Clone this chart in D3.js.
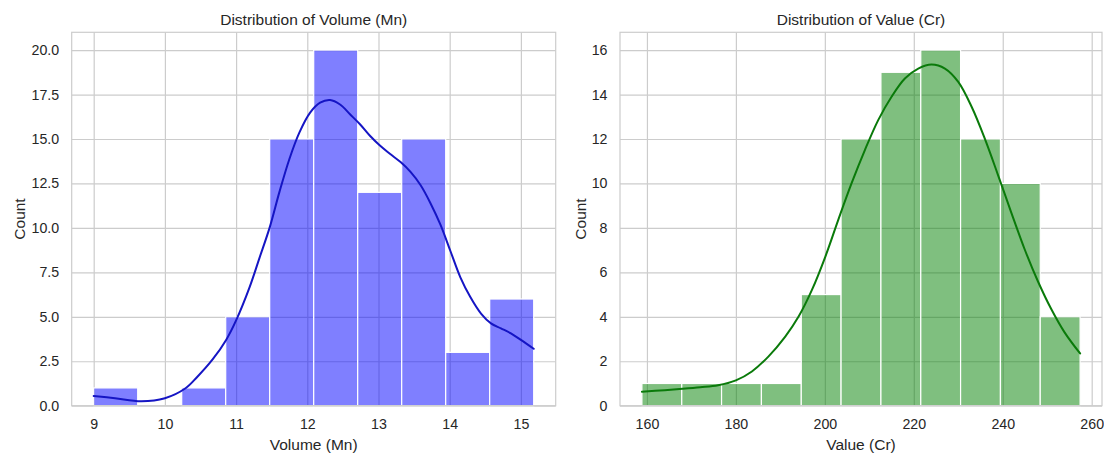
<!DOCTYPE html>
<html>
<head>
<meta charset="utf-8">
<script src="https://cdn.jsdelivr.net/npm/d3@7"></script>
<style>
  body { margin: 0; background: #fff; }
  svg { display: block; font-family: "Liberation Sans", Arial, sans-serif; }
</style>
</head>
<body>
<svg id="chart" width="1104" height="455"></svg>
<script>
// histogram bins
let volumeEdges = [9.0, 9.618, 10.236, 10.854, 11.472, 12.09, 12.708, 13.326, 13.944, 14.562, 15.18]
let volumeCounts = [1, 0, 1, 5, 15, 20, 12, 15, 3, 6]
let valueEdges = [158.87, 167.83, 176.78, 185.74, 194.70, 203.65, 212.61, 221.57, 230.52, 239.48, 248.43, 257.39]
let valueCounts = [1, 1, 1, 1, 5, 12, 15, 16, 12, 10, 4]

// kde curves (in count units)
let volumeKdeX = [9.0, 9.3, 9.67, 10.0, 10.29, 10.45, 10.67, 10.86, 11.0, 11.19, 11.33, 11.47, 11.61, 11.75, 11.89,
  12.04, 12.18, 12.32, 12.46, 12.6, 12.74, 12.88, 13.02, 13.16, 13.31, 13.45, 13.59, 13.73, 13.87, 14.01,
  14.15, 14.29, 14.44, 14.58, 14.72, 14.86, 15.0, 15.18]
let volumeKdeY = [0.55, 0.42, 0.25, 0.42, 0.98, 1.6, 2.6, 3.7, 4.8, 6.67, 8.33, 10.0, 12.04, 13.89, 15.37,
  16.48, 17.04, 17.19, 16.94, 16.39, 15.83, 15.18, 14.63, 14.17, 13.7, 13.15, 12.41, 11.39, 10.18, 8.7,
  7.22, 6.11, 5.18, 4.63, 4.35, 4.07, 3.7, 3.2]
let valueKdeX = [158.87, 164, 168, 172, 176, 180, 183.6, 187.3, 191.1, 194.1, 197.1, 200.1, 203, 206, 209,
  212, 215, 218, 221, 224, 227, 230, 233, 235.9, 238.9, 241.9, 244.9, 247.9, 250.9, 253.9, 257.39]
let valueKdeY = [0.63, 0.7, 0.76, 0.83, 0.92, 1.14, 1.54, 2.21, 3.11, 4.01, 5.21, 6.7, 8.35, 10.0, 11.5,
  12.85, 13.9, 14.72, 15.17, 15.35, 15.17, 14.57, 13.45, 12.05, 10.4, 8.7, 7.05, 5.6, 4.35, 3.3, 2.35]

// tick labels
let volumeTicks = [9, 10, 11, 12, 13, 14, 15]
let volumeCountTicks = [0, 2.5, 5, 7.5, 10, 12.5, 15, 17.5, 20]
let valueTicks = [160, 180, 200, 220, 240, 260]
let valueCountTicks = [0, 2, 4, 6, 8, 10, 12, 14, 16]

let textColor = "#262626"
let gridColor = "#cccccc"

function drawPanel(opts) {
  let svg = d3.select("#chart")
  let w = opts.right - opts.left
  let h = opts.bottom - opts.top
  let g = svg.append("g").attr("transform", `translate(${opts.left},${opts.top})`)

  // matplotlib style 5% margins on x, top margin on y
  let x0 = opts.edges[0], x1 = opts.edges[opts.edges.length - 1]
  let pad = (x1 - x0) * 0.05
  let x = d3.scaleLinear().domain([x0 - pad, x1 + pad]).range([0, w])
  let yMax = d3.max(opts.counts) * 1.05
  let y = d3.scaleLinear().domain([0, yMax]).range([h, 0])

  let xAxis = g.append("g")
    .attr("transform", `translate(0,${h})`)
    .call(d3.axisBottom(x).tickValues(opts.xTicks).tickSize(-h).tickSizeOuter(0).tickPadding(13.2)
      .tickFormat(d3.format("d")))
  let yAxis = g.append("g")
    .call(d3.axisLeft(y).tickValues(opts.yTicks).tickSize(-w).tickSizeOuter(0).tickPadding(12.5)
      .tickFormat(opts.yFormat))

  for (let ax of [xAxis, yAxis]) {
    ax.select(".domain").remove()
    ax.selectAll(".tick line").attr("stroke", gridColor).attr("stroke-width", 1.2)
    ax.selectAll(".tick text")
      .attr("fill", textColor)
      .style("font-size", "14.2px")
      .style("font-family", "'Liberation Sans', Arial, sans-serif")
  }

  let bins = opts.counts.map((c, i) => ({ x0: opts.edges[i], x1: opts.edges[i + 1], c: c }))
  g.selectAll("rect.bar")
    .data(bins.filter(d => d.c > 0))
    .join("rect")
    .attr("class", "bar")
    .attr("x", d => x(d.x0))
    .attr("y", d => y(d.c))
    .attr("width", d => x(d.x1) - x(d.x0))
    .attr("height", d => y(0) - y(d.c))
    .attr("fill", opts.color)
    .attr("fill-opacity", 0.5)
    .attr("stroke", "#fff")
    .attr("stroke-width", 1.2)

  let line = d3.line()
    .x(d => x(d[0]))
    .y(d => y(d[1]))
    .curve(d3.curveCatmullRom)
  g.append("path")
    .datum(opts.kdeX.map((v, i) => [v, opts.kdeY[i]]))
    .attr("d", line)
    .attr("fill", "none")
    .attr("stroke", opts.lineColor)
    .attr("stroke-width", 2)
    .attr("stroke-linecap", "round")

  // frame
  g.append("rect")
    .attr("width", w)
    .attr("height", h)
    .attr("fill", "none")
    .attr("stroke", gridColor)
    .attr("stroke-width", 1.2)

  g.append("text")
    .attr("x", w / 2)
    .attr("y", -7)
    .attr("text-anchor", "middle")
    .attr("fill", textColor)
    .style("font-size", "15.5px")
    .text(opts.title)

  g.append("text")
    .attr("x", w / 2)
    .attr("y", h + 44.5)
    .attr("text-anchor", "middle")
    .attr("fill", textColor)
    .style("font-size", "15.5px")
    .text(opts.xLabel)

  g.append("text")
    .attr("transform", `translate(${opts.yLabelX - opts.left},${h / 2}) rotate(-90)`)
    .attr("text-anchor", "middle")
    .attr("fill", textColor)
    .style("font-size", "15.5px")
    .text("Count")
}

drawPanel({
  left: 71.7, right: 555.7, top: 32.3, bottom: 405.7,
  edges: volumeEdges, counts: volumeCounts,
  kdeX: volumeKdeX, kdeY: volumeKdeY,
  xTicks: volumeTicks, yTicks: volumeCountTicks, yFormat: d3.format(".1f"),
  color: "blue", lineColor: "#1515c4",
  title: "Distribution of Volume (Mn)", xLabel: "Volume (Mn)", yLabelX: 25.5
})

drawPanel({
  left: 620, right: 1102, top: 32.3, bottom: 405.7,
  edges: valueEdges, counts: valueCounts,
  kdeX: valueKdeX, kdeY: valueKdeY,
  xTicks: valueTicks, yTicks: valueCountTicks, yFormat: d3.format("d"),
  color: "green", lineColor: "#0a7a0a",
  title: "Distribution of Value (Cr)", xLabel: "Value (Cr)", yLabelX: 585.5
})
</script>
</body>
</html>
